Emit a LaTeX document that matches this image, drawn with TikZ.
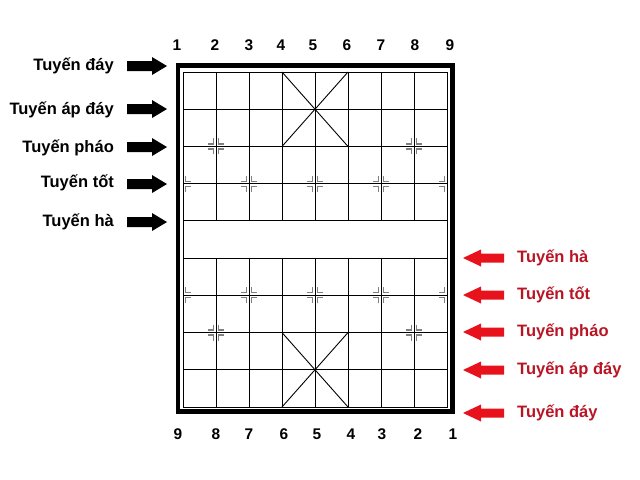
\documentclass[tikz,border=0pt]{standalone}
\usepackage{fontspec}
\setmainfont{Liberation Sans}
\definecolor{labred}{RGB}{185,20,35}
\definecolor{arrred}{RGB}{232,18,28}
\tikzset{
  lab/.style={font=\fontsize{23.5}{28}\selectfont\bfseries,inner sep=0pt},
  num/.style={font=\fontsize{22}{26}\selectfont\bfseries,inner sep=0pt},
  gridline/.style={line width=0.45mm},
  markline/.style={gray,line width=0.6mm}
}
\newcommand\ptmark[3]{\foreach \sx in {#3}{\foreach \sy in {-1,1}{\draw[markline] (#1+\sx*2.5,#2+\sy*8) -- (#1+\sx*2.5,#2+\sy*2.5) -- (#1+\sx*8,#2+\sy*2.5);}}}

\begin{document}
\begin{tikzpicture}[x=0.5mm,y=-0.5mm]
\useasboundingbox (0,0) rectangle (640,480);

\draw[line width=2.2mm] (178,65.5) rectangle (452.5,411.5);
\draw[gridline] (183,72) rectangle (447,407);
\foreach \r in {1,...,8} \draw[gridline] (183,72+37.22*\r) -- (447,72+37.22*\r);
\foreach \c in {1,...,7} {
  \draw[gridline] (183+33*\c,72) -- (183+33*\c,72+37.22*4);
  \draw[gridline] (183+33*\c,72+37.22*5) -- (183+33*\c,407);
}
\draw[gridline] (282,72) -- (348,146.44);
\draw[gridline] (348,72) -- (282,146.44);
\draw[gridline] (282,332.56) -- (348,407);
\draw[gridline] (348,332.56) -- (282,407);

\foreach \c/\r in {1/2,7/2,2/3,4/3,6/3,2/6,4/6,6/6,1/7,7/7} \ptmark{183+33*\c}{72+37.22*\r}{-1,1};
\foreach \r in {3,6} {
  \ptmark{183}{72+37.22*\r}{1};
  \ptmark{447}{72+37.22*\r}{-1};
}

\foreach \x/\t [count=\i] in {177/1,215/2,249/3,281/4,313/5,347/6,381/7,415/8,450/9}
  \node[num] (t\i) at (\x,45) {\t};
\foreach \x/\t [count=\i] in {178/9,216/8,249/7,284/6,317/5,351/4,382/3,418/2,453/1}
  \node[num] (b\i) at (\x,434) {\t};

\foreach \y/\t [count=\i] in {66/Tuyến đáy,110/Tuyến áp đáy,148/Tuyến pháo,183/Tuyến tốt,222/Tuyến hà}
  \node[lab,anchor=east] (l\i) at (114,\y) {\t};
\foreach \y in {66,109,147,184,222}
  \fill (127,\y-5) -- (152,\y-5) -- (152,\y-9) -- (167,\y) -- (152,\y+9) -- (152,\y+5) -- (127,\y+5) -- cycle;

\foreach \y/\t [count=\i] in {258/Tuyến hà,295/Tuyến tốt,332/Tuyến pháo,370/Tuyến áp đáy,413/Tuyến đáy}
  \node[lab,text=labred,anchor=west] (r\i) at (517,\y) {\t};
\foreach \y in {258,295,332,370,413}
  \fill[arrred] (504,\y-4.5) -- (481,\y-4.5) -- (481,\y-8.5) -- (463,\y) -- (481,\y+8.5) -- (481,\y+4.5) -- (504,\y+4.5) -- cycle;
\end{tikzpicture}
\end{document}
